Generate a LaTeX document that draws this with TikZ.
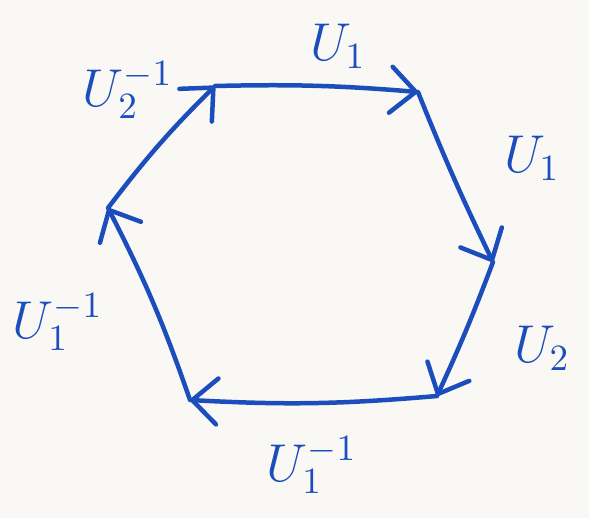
\documentclass[tikz,border=0pt]{standalone}
\usetikzlibrary{arrows.meta}
\definecolor{inkBlue}{HTML}{1C4DBD}
\definecolor{paperBg}{HTML}{FAF8F4}
\tikzset{
  cyc/.style={draw=inkBlue,line width=4.5pt,line cap=round,
    -{Straight Barb[length=25pt,width=46pt,round]}},
  lbl/.style={text=inkBlue,font=\Large,scale=3.7,inner sep=0pt}
}
\begin{document}
\begin{tikzpicture}[x=1pt,y=-1pt]
  \fill[paperBg] (0,0) rectangle (589,518);
  \useasboundingbox (0,0) rectangle (589,518);
  % corners of the hexagon
  \coordinate (tl) at (215,86);
  \coordinate (tr) at (418,92);
  \coordinate (rr) at (493,262);
  \coordinate (br) at (437,396);
  \coordinate (bl) at (190,400);
  \coordinate (ll) at (108,208);
  % the cycle, clockwise
  \draw[cyc] (tl) to[bend left=3] (tr);
  \draw[cyc] (tr) to[bend right=2] (rr);
  \draw[cyc] (rr) to[bend left=2] (br);
  \draw[cyc] (br) to[bend left=4] (bl);
  \draw[cyc] (bl) to[bend right=4] (ll);
  \draw[cyc] (ll) to[bend left=4] (tl);
  % labels
  \node[lbl] (u1t)  at (338,46)  {$U_1$};
  \node[lbl] (u1r)  at (532,158) {$U_1$};
  \node[lbl] (u2r)  at (542,348) {$U_2$};
  \node[lbl] (u1b)  at (312,465) {$U_1^{-1}$};
  \node[lbl] (u1l)  at (58,322)  {$U_1^{-1}$};
  \node[lbl] (u2l)  at (128,90)  {$U_2^{-1}$};
\end{tikzpicture}
\end{document}
